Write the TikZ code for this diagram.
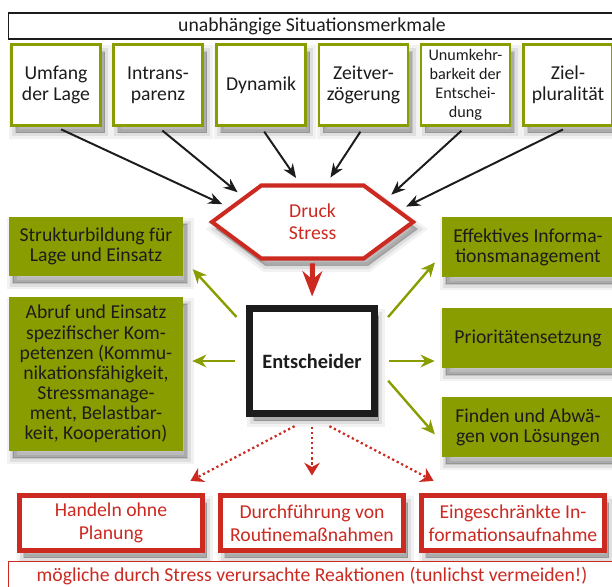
\documentclass[tikz,border=0pt]{standalone}
\usepackage{fontspec}
\setmainfont{Carlito}
\usepackage{tikz}
\usetikzlibrary{positioning}
\usetikzlibrary{arrows.meta}
\usetikzlibrary{shapes.symbols}
\definecolor{gruen}{RGB}{138,157,0}
\definecolor{rot}{RGB}{204,41,33}
\definecolor{fast}{RGB}{28,28,28}

\begin{document}
\begin{tikzpicture}[x=0.025cm, y=-0.025cm,
				schatten/.style={
					preaction={fill=black, draw=black, line width=9pt, opacity=0.05, transform canvas={xshift=3pt, yshift=-5pt}},
					preaction={fill=black, draw=black, line width=5pt, opacity=0.08, transform canvas={xshift=3pt, yshift=-5pt}},
					preaction={fill=black, draw=black, line width=1pt, opacity=0.12, transform canvas={xshift=3pt, yshift=-5pt}}},
				kopf/.style={rectangle, draw=fast, line width=0.8pt, fill=white, minimum width=15.15cm, minimum height=0.65cm, inner sep=0pt, font=\fontsize{14}{15}\selectfont, text=fast},
				merkmal/.style={rectangle, draw=gruen, line width=2.1pt, fill=white, minimum width=2.225cm, minimum height=2.025cm, inner sep=0pt, align=center, font=\fontsize{14}{15}\selectfont, text=fast, schatten},
				druckbox/.style={signal, signal to=east and west, signal pointer angle=73, draw=rot, line width=2.9pt, fill=white, minimum width=5.025cm, minimum height=1.825cm, inner sep=0pt, align=center, font=\fontsize{14}{15.6}\selectfont, text=rot, schatten},
				entscheider/.style={rectangle, draw=fast, line width=5pt, fill=white, minimum width=3.125cm, minimum height=2.625cm, inner sep=0pt, font=\fontsize{14.5}{16}\selectfont\bfseries, text=fast, schatten},
				massnahme/.style={rectangle, fill=gruen, minimum width=4.35cm, minimum height=1.5cm, inner sep=0pt, align=center, font=\fontsize{14}{14.3}\selectfont, text=fast, schatten},
				reaktion/.style={rectangle, draw=rot, line width=3.5pt, fill=white, minimum width=4.575cm, minimum height=1.375cm, inner sep=0pt, align=center, font=\fontsize{14}{16.3}\selectfont, text=rot, schatten},
				fuss/.style={rectangle, draw=rot, line width=0.7pt, fill=white, minimum width=15.15cm, minimum height=0.75cm, inner sep=0pt, font=\fontsize{14}{15}\selectfont, text=rot},
				pfeil/.style={draw=fast, line width=1.4pt, -{Stealth[length=10pt,width=8pt]}, shorten <=4pt, shorten >=5pt},
				gpfeil/.style={draw=gruen, line width=1.7pt, -{Stealth[length=10pt,width=9pt]}},
				rotpfeil/.style={draw=rot, line width=3.5pt, -{Stealth[length=18pt,width=14pt]}, shorten <=2pt, shorten >=6pt},
				rpunkt/.style={draw=rot, line width=1.6pt, dotted, -{Stealth[length=9pt,width=11pt]}},
				]
				\useasboundingbox (0,0) rectangle (612,586);

				%Nodes
				\node[kopf]        (kopf)   at (312,26)    {unabhängige Situationsmerkmale};
				\node[merkmal]     (m1)     at (56,85)     {Umfang\\der Lage};
				\node[merkmal]     (m2)     at (158,85)    {Intrans-\\parenz};
				\node[merkmal]     (m3)     at (261,85)    {Dynamik};
				\node[merkmal]     (m4)     at (363.5,85)  {Zeitver-\\zögerung};
				\node[merkmal, font=\fontsize{11.5}{13.5}\selectfont]
				                   (m5)     at (465.5,85)  {Unumkehr-\\barkeit der\\Entschei-\\dung};
				\node[merkmal]     (m6)     at (568,85)    {Ziel-\\pluralität};

				\node[druckbox]    (stress) at (312.5,222) {Druck\\Stress};
				\node[entscheider] (ent)    at (312,361)   {Entscheider};

				\node[massnahme, minimum height=1.475cm]
				                   (l1)     at (96,246.5)  {Strukturbildung für\\Lage und Einsatz};
				\node[massnahme, minimum height=3.85cm]
				                   (l2)     at (96,374)    {Abruf und Einsatz\\spezifischer Kom-\\petenzen (Kommu-\\nikationsfähigkeit,\\Stressmanage-\\ment, Belastbar-\\keit, Kooperation)};
				\node[massnahme, minimum width=4.3cm]
				                   (r1)     at (528,247)   {Effektives Informa-\\tionsmanagement};
				\node[massnahme, minimum width=4.3cm]
				                   (r2)     at (528,338)   {Prioritätensetzung};
				\node[massnahme, minimum width=4.3cm]
				                   (r3)     at (528,427)   {Finden und Abwä-\\gen von Lösungen};

				\node[reaktion]    (b1)     at (111,523)   {Handeln ohne\\Planung};
				\node[reaktion]    (b2)     at (312,523)   {Durchführung von\\Routinemaßnahmen};
				\node[reaktion]    (b3)     at (513,523)   {Eingeschränkte In-\\formationsaufnahme};
				\node[fuss]        (fuss)   at (312,576)   {mögliche durch Stress verursachte Reaktionen (tunlichst vermeiden!)};

				%Lines
				\draw[pfeil] (m1.south) -- (stress.170.5);
				\draw[pfeil] (m2.south) -- (stress.160.8);
				\draw[pfeil] (m3.south) -- (stress.108.7);
				\draw[pfeil] (m4.south) -- (stress.70.4);
				\draw[pfeil] (m5.south) -- (stress.17.4);
				\draw[pfeil] (m6.south) -- (stress.8.4);

				\draw[rotpfeil] (stress.south) -- (ent.north);

				\draw[gpfeil, shorten <=10pt, shorten >=10pt] (ent.153) -- (l1.352);
				\draw[gpfeil, shorten <=8pt, shorten >=6.4pt] (ent.west) -- (ent.west -| l2.east);
				\draw[gpfeil, shorten <=11pt, shorten >=7.4pt] (ent.26.7) -- (r1.185.5);
				\draw[gpfeil, shorten <=7.5pt, shorten >=5pt] (ent.east) -- (ent.east -| r2.west);
				\draw[gpfeil, shorten <=11pt, shorten >=7.4pt] (ent.353.2) -- (r3.190.3);

				\draw[rpunkt, shorten <=14pt, shorten >=18.5pt] (ent.south) -- (b1.28.3);
				\draw[rpunkt, shorten <=7pt, shorten >=12.5pt] (ent.south) -- (b2.north);
				\draw[rpunkt, shorten <=14pt, shorten >=18.5pt] (ent.south) -- (b3.152.4);
			\end{tikzpicture}
\end{document}
